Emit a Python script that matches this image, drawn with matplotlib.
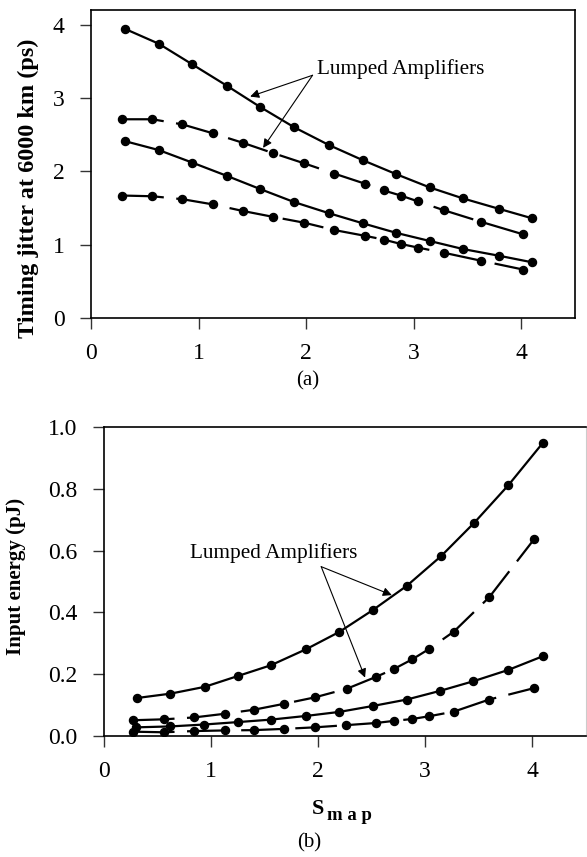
import matplotlib
matplotlib.use('Agg')
import matplotlib.pyplot as plt

plt.rcParams['font.family'] = ['Liberation Serif', 'DejaVu Serif']
plt.rcParams['lines.scale_dashes'] = False

# ---------------- data: panel (a) timing jitter ----------------
a_solid_top_x = [0.32, 0.63, 0.94, 1.26, 1.57, 1.89, 2.21, 2.53, 2.84, 3.15, 3.46, 3.79, 4.10]
a_solid_top_y = [3.94, 3.74, 3.46, 3.17, 2.88, 2.60, 2.36, 2.15, 1.96, 1.78, 1.63, 1.49, 1.36]
a_dash_top_x = [0.29, 0.57, 0.85, 1.13, 1.41, 1.69, 1.98, 2.26, 2.55, 2.72, 2.88, 3.04, 3.28, 3.63, 4.02]
a_dash_top_y = [2.71, 2.71, 2.64, 2.52, 2.39, 2.25, 2.11, 1.97, 1.83, 1.74, 1.67, 1.59, 1.47, 1.31, 1.14]
a_solid_low_x = [0.32, 0.63, 0.94, 1.26, 1.57, 1.89, 2.21, 2.53, 2.84, 3.15, 3.46, 3.79, 4.10]
a_solid_low_y = [2.41, 2.29, 2.12, 1.94, 1.76, 1.58, 1.43, 1.29, 1.16, 1.05, 0.94, 0.85, 0.76]
a_dash_low_x = [0.29, 0.57, 0.85, 1.13, 1.41, 1.69, 1.98, 2.26, 2.55, 2.72, 2.88, 3.04, 3.28, 3.63, 4.02]
a_dash_low_y = [1.67, 1.66, 1.62, 1.55, 1.46, 1.38, 1.30, 1.20, 1.12, 1.07, 1.01, 0.96, 0.89, 0.78, 0.66]

# ---------------- data: panel (b) input energy ----------------
b_solid_top_x = [0.31, 0.62, 0.94, 1.25, 1.56, 1.89, 2.20, 2.51, 2.83, 3.15, 3.46, 3.78, 4.10]
b_solid_top_y = [0.123, 0.137, 0.159, 0.194, 0.229, 0.281, 0.337, 0.407, 0.486, 0.582, 0.690, 0.812, 0.948]
b_dash_top_x = [0.27, 0.56, 0.84, 1.13, 1.40, 1.68, 1.97, 2.27, 2.54, 2.71, 2.88, 3.04, 3.27, 3.60, 4.02]
b_dash_top_y = [0.051, 0.054, 0.060, 0.072, 0.085, 0.104, 0.125, 0.153, 0.191, 0.217, 0.248, 0.282, 0.338, 0.449, 0.637]
b_solid_low_x = [0.30, 0.62, 0.93, 1.25, 1.56, 1.89, 2.20, 2.51, 2.83, 3.14, 3.45, 3.78, 4.10]
b_solid_low_y = [0.028, 0.031, 0.037, 0.045, 0.053, 0.065, 0.078, 0.097, 0.118, 0.146, 0.177, 0.214, 0.258]
b_dash_low_x = [0.27, 0.56, 0.84, 1.13, 1.40, 1.68, 1.97, 2.26, 2.54, 2.71, 2.88, 3.04, 3.27, 3.60, 4.02]
b_dash_low_y = [0.014, 0.012, 0.016, 0.018, 0.019, 0.023, 0.028, 0.035, 0.042, 0.049, 0.055, 0.064, 0.079, 0.118, 0.155]

a_yticks = [0, 1, 2, 3, 4]
b_yticks = [0.0, 0.2, 0.4, 0.6, 0.8, 1.0]
xticks = [0, 1, 2, 3, 4]

W, H = 587, 857
fig = plt.figure(figsize=(W / 100, H / 100), dpi=100)

ax1 = fig.add_axes([91 / W, 1 - 318 / H, (575 - 91) / W, (318 - 10) / H])
ax2 = fig.add_axes([104 / W, 1 - 736 / H, 481.5 / W, 309 / H])

line_kw = dict(color='black', lw=1.6, marker='o', ms=5.8)
dash = (0, (30, 9))

ax1.plot(a_solid_top_x, a_solid_top_y, ls='-', **line_kw)
ax1.plot(a_dash_top_x, a_dash_top_y, ls=dash, **line_kw)
ax1.plot(a_solid_low_x, a_solid_low_y, ls='-', **line_kw)
ax1.plot(a_dash_low_x, a_dash_low_y, ls=dash, **line_kw)

ax2.plot(b_solid_top_x, b_solid_top_y, ls='-', **line_kw)
ax2.plot(b_dash_top_x, b_dash_top_y, ls=dash, **line_kw)
ax2.plot(b_solid_low_x, b_solid_low_y, ls='-', **line_kw)
ax2.plot(b_dash_low_x, b_dash_low_y, ls=dash, **line_kw)

ax1.set_xlim(0, 4.5)
ax1.set_ylim(0, 4.2)
ax1.set_xticks(xticks)
ax1.set_yticks(a_yticks)
ax1.set_yticklabels([str(v) for v in a_yticks])

ax2.set_xlim(0, 4.5)
ax2.set_ylim(0, 1.0)
ax2.set_xticks(xticks)
ax2.set_yticks(b_yticks)
ax2.set_yticklabels(['%.1f' % v for v in b_yticks])

for ax in (ax1, ax2):
    ax.tick_params(direction='out', length=8, width=1.0, labelsize=17, color='#333333')
    ax.tick_params(axis='x', pad=10)
    ax.tick_params(axis='y', pad=11)
    for s in ax.spines.values():
        s.set_linewidth(1.2)
ax2.spines['right'].set_color('#cccccc')
ax2.spines['right'].set_linewidth(0.8)

arrow_kw = dict(arrowstyle='-|>', lw=0.8, color='black', mutation_scale=13,
                shrinkA=0, shrinkB=0)

# annotations panel (a)
ax1.text(2.10, 3.39, 'Lumped Amplifiers', fontsize=15.3, ha='left', va='center')
ax1.annotate('', xy=(1.48, 3.02), xytext=(2.06, 3.31), arrowprops=arrow_kw)
ax1.annotate('', xy=(1.60, 2.32), xytext=(2.06, 3.31), arrowprops=arrow_kw)

# annotations panel (b)
ax2.text(0.80, 0.592, 'Lumped Amplifiers', fontsize=15.3, ha='left', va='center')
ax2.annotate('', xy=(2.69, 0.456), xytext=(2.03, 0.548), arrowprops=arrow_kw)
ax2.annotate('', xy=(2.44, 0.189), xytext=(2.03, 0.548), arrowprops=arrow_kw)

# axis labels
fig.text(28 / W, 1 - 188 / H, 'Timing jitter at 6000 km (ps)', rotation=90,
         ha='center', va='center', fontsize=17.5, fontweight='bold')
fig.text(16 / W, 1 - 576 / H, 'Input energy (pJ)', rotation=90,
         ha='center', va='center', fontsize=15, fontweight='bold')

fig.text(312 / W, 1 - 814 / H, 'S', ha='left', va='baseline', fontsize=16, fontweight='bold')
fig.text(327 / W, 1 - 820 / H, 'm a p', ha='left', va='baseline', fontsize=13.5, fontweight='bold')

fig.text(308 / W, 1 - 381 / H, '(a)', ha='center', va='center', fontsize=15)
fig.text(309 / W, 1 - 843 / H, '(b)', ha='center', va='center', fontsize=15)

fig.savefig('out.png', dpi=100)
